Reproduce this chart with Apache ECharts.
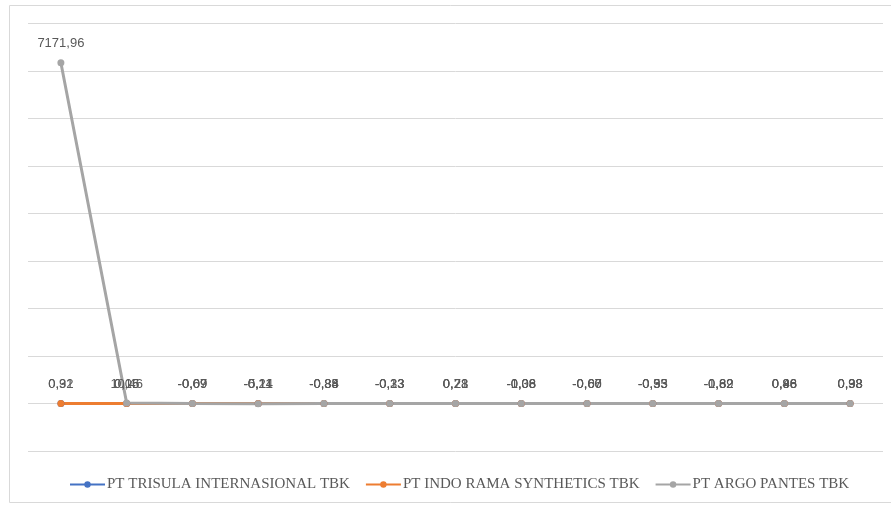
<!DOCTYPE html>
<html>
<head>
<meta charset="utf-8">
<script src="https://cdn.jsdelivr.net/npm/echarts@6/dist/echarts.min.js"></script>
<style>html,body{margin:0;padding:0;background:#fff;}#c{width:891px;height:505px;}</style>
</head>
<body>
<div id="c"></div>
<script>
const categories = ['1','2','3','4','5','6','7','8','9','10','11','12','13'];
const trisula  = [0.31, 0.06, -0.07, -0.21, -0.88, -0.23, 0.28, -0.08, -0.07, -0.33, -0.89, 0.88, 0.33];
const indoRama = [0.92, 0.15, -0.09, -0.14, -0.35, -0.13, 0.21, -0.38, -0.60, -0.55, -0.62, 0.46, 0.98];
const argo     = [7171.96, 10.46, -0.69, -5.11, -0.84, -0.33, 0.73, -1.06, -0.66, -0.93, -1.82, 0.96, 0.98];
const seriesNames = ['PT TRISULA INTERNASIONAL TBK', 'PT INDO RAMA SYNTHETICS TBK', 'PT ARGO PANTES TBK'];
const colors = ['#4472C4', '#ED7D31', '#A5A5A5'];

const chart = echarts.init(document.getElementById('c'));
function mk(name, data, color) {
  return {
    name: name, type: 'line', data: data,
    symbol: 'circle', symbolSize: 7,
    itemStyle: { color: color },
    lineStyle: { color: color, width: 3 },
    label: {
      show: true, position: 'top', distance: 9,
      fontFamily: 'Liberation Sans', fontSize: 13, color: '#595959',
      formatter: p => p.value.toFixed(2).replace('.', ',')
    },
    emphasis: { disabled: true },
    animation: false
  };
}
chart.setOption({
  animation: false,
  graphic: [{
    type: 'rect', shape: { x: 9.5, y: 5.5, width: 900, height: 497 },
    style: { fill: 'none', stroke: '#d9d9d9', lineWidth: 1 }, silent: true, z: -1
  }],
  grid: { left: 28, right: 8, top: 23.5, bottom: 54, containLabel: false },
  legend: {
    bottom: 8, left: 64,
    itemWidth: 35, itemHeight: 8, itemGap: 15,
    textStyle: { fontFamily: 'Liberation Serif', fontSize: 15, color: '#595959', padding: [0, 0, 0, -3] },
    data: seriesNames
  },
  xAxis: {
    type: 'category', data: categories, boundaryGap: true,
    axisLine: { show: false }, axisTick: { show: false }, axisLabel: { show: false }
  },
  yAxis: {
    type: 'value', min: -1000, max: 8000, interval: 1000,
    axisLine: { show: false }, axisTick: { show: false }, axisLabel: { show: false },
    splitLine: { lineStyle: { color: '#d9d9d9', width: 1 } }
  },
  series: [
    mk(seriesNames[0], trisula, colors[0]),
    mk(seriesNames[1], indoRama, colors[1]),
    mk(seriesNames[2], argo, colors[2])
  ]
});
</script>
</body>
</html>
